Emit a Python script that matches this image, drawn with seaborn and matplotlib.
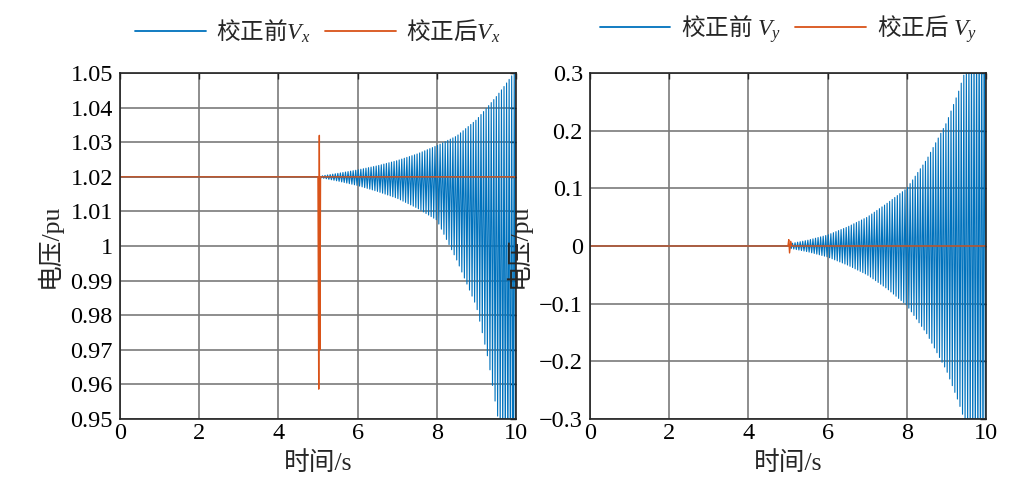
import numpy as np
import pandas as pd
import matplotlib
matplotlib.use("Agg")
import matplotlib.pyplot as plt
from matplotlib.font_manager import FontProperties
import seaborn as sns

# envelope of the uncorrected oscillation
t_env = [5.05, 5.5, 6.0, 6.5, 7.0, 7.5, 8.0, 8.5, 9.0, 9.3, 9.5, 9.7, 10.0]
vx_upper = [1.0202, 1.0210, 1.0220, 1.0232, 1.0247, 1.0266, 1.0290, 1.0318, 1.0365, 1.0405, 1.0432, 1.0462, 1.0510]
vx_lower = [1.0198, 1.0188, 1.0175, 1.0158, 1.0138, 1.0110, 1.0075, 0.9960, 0.9825, 0.9670, 0.9530, 0.9400, 0.9200]
vy_upper = [0.004, 0.010, 0.019, 0.033, 0.050, 0.074, 0.100, 0.150, 0.214, 0.267, 0.310, 0.360, 0.450]
vy_lower = [-0.004, -0.010, -0.019, -0.033, -0.050, -0.074, -0.103, -0.152, -0.216, -0.270, -0.312, -0.362, -0.450]
osc_hz = 15.5      # visible cycles per second
vx_base = 1.02
vy_base = 0.0

# corrected curves (short disturbance at t = 5 s)
t_corr = [0.0, 5.0, 5.02, 5.035, 5.05, 5.065, 10.0]
vx_corr = [1.02, 1.02, 0.9586, 1.032, 0.970, 1.02, 1.02]
t_corr_y = [0.0, 5.0, 5.02, 5.04, 5.07, 5.10, 10.0]
vy_corr = [0.0, 0.0, 0.011, -0.012, 0.008, 0.0, 0.0]

xticks = [0, 2, 4, 6, 8, 10]
left_yticks = [0.95, 0.96, 0.97, 0.98, 0.99, 1.0, 1.01, 1.02, 1.03, 1.04, 1.05]
left_ylabels = ["0.95", "0.96", "0.97", "0.98", "0.99", "1", "1.01", "1.02", "1.03", "1.04", "1.05"]
right_yticks = [-0.3, -0.2, -0.1, 0, 0.1, 0.2, 0.3]
right_ylabels = ["\u22120.3", "\u22120.2", "\u22120.1", "0", "0.1", "0.2", "0.3"]


def oscillation(upper, lower, base):
    # zigzag between the read envelopes, one peak every half cycle
    t_pk = np.arange(t_env[0], t_env[-1], 0.5 / osc_hz)
    up = np.interp(t_pk, t_env, upper)
    lo = np.interp(t_pk, t_env, lower)
    val = np.where(np.arange(len(t_pk)) % 2 == 0, up, lo)
    t = np.concatenate([[0.0, t_env[0]], t_pk[1:]])
    v = np.concatenate([[base, base], val[1:]])
    return pd.DataFrame({"t": t, "v": v})


sns.set_theme(style="white")
plt.rcParams["font.family"] = ["Liberation Serif", "Noto Sans CJK SC"]
plt.rcParams["mathtext.fontset"] = "custom"
plt.rcParams["mathtext.rm"] = "Liberation Serif"
plt.rcParams["mathtext.it"] = "Liberation Serif:italic"
plt.rcParams["axes.unicode_minus"] = True

blue = "#0072BD"
orange = "#D95319"
fs = 17.5
# mathtext draws the plain part of a label in the text's first family only,
# so the legend text gets the CJK face first
legend_font = FontProperties(family="Noto Sans CJK SC", size=fs - 0.5)

fig = plt.figure(figsize=(10.24, 5.01), dpi=100)
ax1 = fig.add_axes([0.117, 0.164, 0.387, 0.690])
ax2 = fig.add_axes([0.576, 0.164, 0.387, 0.690])

panels = [
    (ax1, oscillation(vx_upper, vx_lower, vx_base), t_corr, vx_corr,
     (0.95, 1.05), left_yticks, left_ylabels,
     "校正前$V_x$", "校正后$V_x$"),
    (ax2, oscillation(vy_upper, vy_lower, vy_base), t_corr_y, vy_corr,
     (-0.3, 0.3), right_yticks, right_ylabels,
     "校正前 $V_y$", "校正后 $V_y$"),
]

for ax, df_raw, tc, vc, ylim, yt, yl, lab1, lab2 in panels:
    df_corr = pd.DataFrame({"t": tc, "v": vc})
    sns.lineplot(data=df_raw, x="t", y="v", ax=ax, color=blue, lw=0.8,
                 estimator=None, sort=False, label=lab1)
    sns.lineplot(data=df_corr, x="t", y="v", ax=ax, color=orange, lw=1.0,
                 estimator=None, sort=False, label=lab2)
    ax.set_xlim(0, 10)
    ax.set_ylim(*ylim)
    ax.set_xticks(xticks)
    ax.set_xticklabels([str(x) for x in xticks], fontsize=fs)
    ax.set_yticks(yt)
    ax.set_yticklabels(yl, fontsize=fs)
    ax.grid(True, color="#7a7a7a", lw=1.2)
    ax.set_axisbelow(True)
    for s in ax.spines.values():
        s.set_color("#222222")
        s.set_linewidth(1.2)
    ax.tick_params(direction="in", length=4, width=1, top=True, right=True,
                   colors="#222222", labelcolor="black")
    ax.tick_params(axis="y", pad=5)
    ax.tick_params(axis="x", pad=3)
    ax.set_xlabel("时间/s", fontsize=fs + 1, labelpad=5)
    ax.set_ylabel("电压/pu", fontsize=fs + 1, labelpad=6)
    leg = ax.legend(loc="lower center", bbox_to_anchor=(0.5, 1.035), ncol=2, frameon=False,
                    prop=legend_font, handlelength=3.0, handletextpad=0.45,
                    columnspacing=0.6, borderaxespad=0.3)
    for h in leg.get_lines():
        h.set_linewidth(1.3)

fig.savefig("out.png", dpi=100)
